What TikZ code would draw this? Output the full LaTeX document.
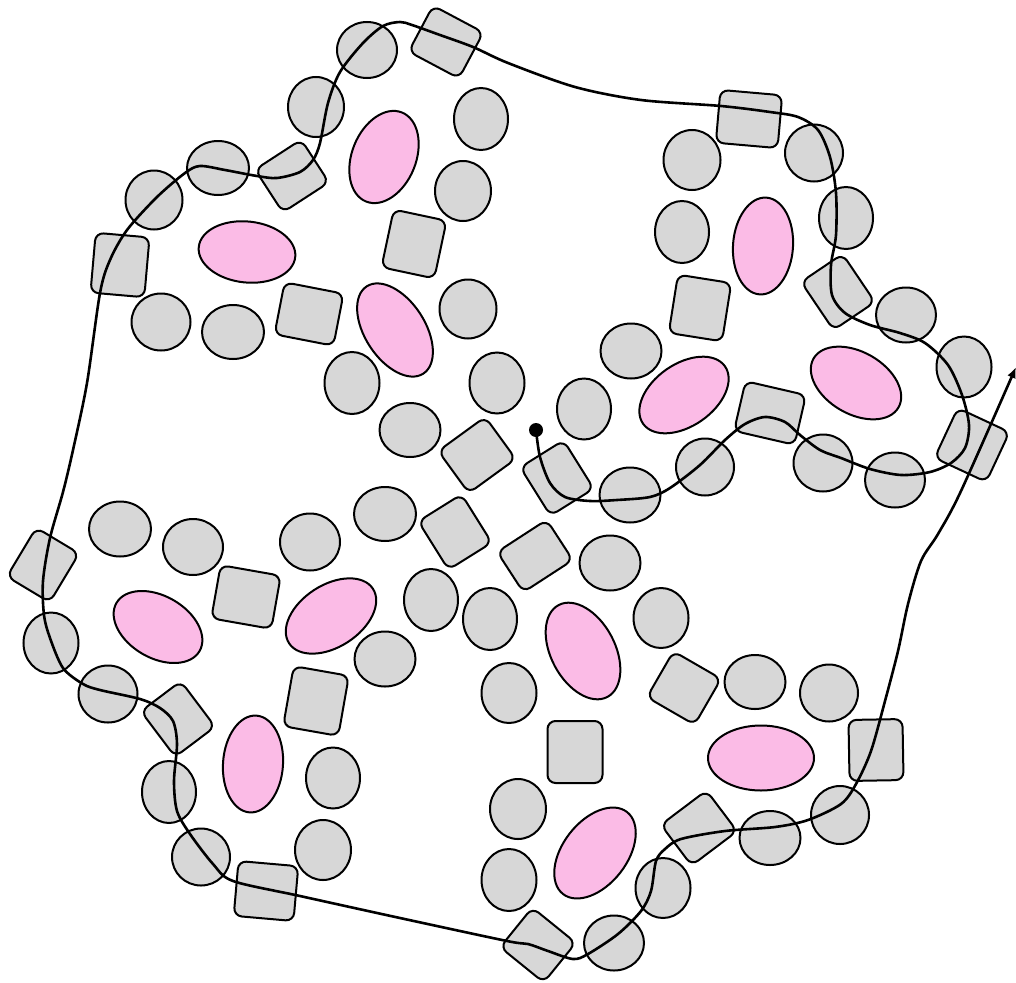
\documentclass[tikz,border=0pt]{standalone}
\usetikzlibrary{shapes.geometric,arrows.meta}
\definecolor{grayfill}{RGB}{215,215,215}
\definecolor{pinkfill}{RGB}{251,187,230}
\tikzset{
  gc/.style 2 args={ellipse, draw=black, fill=grayfill, line width=2pt, inner sep=0pt, outer sep=0pt, minimum width=#1, minimum height=#2},
  pk/.style 2 args={ellipse, draw=black, fill=pinkfill, line width=2pt, inner sep=0pt, outer sep=0pt, minimum width=#1, minimum height=#2},
  sq/.style 2 args={rectangle, rounded corners=8pt, draw=black, fill=grayfill, line width=2pt, inner sep=0pt, outer sep=0pt, minimum width=#1, minimum height=#2},
  dotnode/.style={circle, fill=black, inner sep=0pt, minimum size=14pt},
  route/.style={line width=2.6pt, draw=black, -{Latex[length=11pt,width=9pt]}}
}
\begin{document}
\begin{tikzpicture}[x=1pt,y=-1pt]
\useasboundingbox (0,0) rectangle (1016,982);
% rounded squares
\node[sq={57}{52}, rotate=-28] (s1) at (446,42) {};
\node[sq={55}{51}, rotate=33] (s2) at (292,176) {};
\node[sq={54}{60}, rotate=-5] (s3) at (120,265) {};
\node[sq={54}{59}, rotate=-12] (s4) at (414,244) {};
\node[sq={60}{53}, rotate=-11] (s5) at (309,314) {};
\node[sq={58}{52}, rotate=36] (s6) at (477,455) {};
\node[sq={62}{53}, rotate=-5] (s7) at (749,119) {};
\node[sq={54}{59}, rotate=-9] (s8) at (700,308) {};
\node[sq={50}{58}, rotate=34] (s9) at (838,292) {};
\node[sq={57}{55}, rotate=-25] (s10) at (972,445) {};
\node[sq={62}{51}, rotate=-13] (s11) at (770,413) {};
\node[sq={51}{57}, rotate=32] (s12) at (557,478) {};
\node[sq={51}{57}, rotate=32] (s13) at (455,532) {};
\node[sq={59}{48}, rotate=33] (s14) at (535,556) {};
\node[sq={50}{57}, rotate=-31] (s15) at (43,565) {};
\node[sq={61}{54}, rotate=-10] (s16) at (246,597) {};
\node[sq={50}{57}, rotate=37] (s17) at (178,719) {};
\node[sq={56}{61}, rotate=-10] (s18) at (316,701) {};
\node[sq={60}{55}, rotate=-5] (s19) at (266,891) {};
\node[sq={55}{53}, rotate=-30] (s20) at (684,688) {};
\node[sq={55}{62}] (s21) at (575,752) {};
\node[sq={54}{61}, rotate=1] (s22) at (876,750) {};
\node[sq={57}{51}, rotate=37] (s23) at (699,828) {};
\node[sq={56}{51}, rotate=-39] (s24) at (538,945) {};
% gray circles
\node[gc={60}{56}] (c1) at (367,50) {};
\node[gc={54}{62}] (c2) at (481,119) {};
\node[gc={56}{60}] (c3) at (316,107) {};
\node[gc={56}{60}] (c4) at (463,191) {};
\node[gc={62}{54}] (c5) at (218,168) {};
\node[gc={57}{59}] (c6) at (154,200) {};
\node[gc={59}{57}] (c7) at (161,322) {};
\node[gc={62}{54}] (c8) at (233,332) {};
\node[gc={57}{59}] (c9) at (468,309) {};
\node[gc={55}{62}] (c10) at (352,383) {};
\node[gc={61}{54}] (c11) at (410,430) {};
\node[gc={55}{61}] (c12) at (497,383) {};
\node[gc={57}{60}] (c13) at (692,160) {};
\node[gc={58}{57}] (c14) at (814,153) {};
\node[gc={54}{62}] (c15) at (682,232) {};
\node[gc={54}{62}] (c16) at (846,218) {};
\node[gc={60}{55}] (c17) at (906,315) {};
\node[gc={55}{61}] (c18) at (964,367) {};
\node[gc={61}{55}] (c19) at (631,351) {};
\node[gc={54}{61}] (c20) at (584,409) {};
\node[gc={59}{57}] (c21) at (823,463) {};
\node[gc={60}{55}] (c22) at (895,480) {};
\node[gc={58}{57}] (c23) at (705,467) {};
\node[gc={61}{55}] (c24) at (630,495) {};
\node[gc={62}{55}] (c25) at (120,529) {};
\node[gc={60}{56}] (c26) at (193,547) {};
\node[gc={60}{57}] (c27) at (310,542) {};
\node[gc={62}{54}] (c28) at (385,514) {};
\node[gc={54}{62}] (c29) at (431,600) {};
\node[gc={61}{55}] (c30) at (385,659) {};
\node[gc={55}{61}] (c31) at (51,643) {};
\node[gc={59}{57}] (c32) at (108,694) {};
\node[gc={54}{61}] (c33) at (333,778) {};
\node[gc={54}{62}] (c34) at (169,792) {};
\node[gc={58}{57}] (c35) at (201,857) {};
\node[gc={56}{60}] (c36) at (323,850) {};
\node[gc={61}{55}] (c37) at (610,563) {};
\node[gc={54}{62}] (c38) at (490,619) {};
\node[gc={55}{60}] (c39) at (661,618) {};
\node[gc={55}{60}] (c40) at (509,693) {};
\node[gc={61}{54}] (c41) at (755,682) {};
\node[gc={58}{57}] (c42) at (829,693) {};
\node[gc={56}{60}] (c43) at (518,809) {};
\node[gc={55}{62}] (c44) at (509,880) {};
\node[gc={61}{54}] (c45) at (770,838) {};
\node[gc={58}{58}] (c46) at (840,815) {};
\node[gc={55}{60}] (c47) at (663,888) {};
\node[gc={60}{55}] (c48) at (614,943) {};
% pink ellipses
\node[pk={64}{96}, rotate=-22] (p1) at (384,157) {};
\node[pk={97}{61}, rotate=-6] (p2) at (247,252) {};
\node[pk={60}{104}, rotate=33] (p3) at (395,330) {};
\node[pk={60}{97}, rotate=-4] (p4) at (763,246) {};
\node[pk={100}{62}, rotate=35] (p5) at (684,395) {};
\node[pk={98}{62}, rotate=-30] (p6) at (856,383) {};
\node[pk={96}{62}, rotate=-30] (p7) at (158,627) {};
\node[pk={100}{62}, rotate=33] (p8) at (331,616) {};
\node[pk={64}{104}, rotate=28] (p9) at (583,651) {};
\node[pk={60}{97}, rotate=-4] (p10) at (253,764) {};
\node[pk={106}{65}] (p11) at (761,758) {};
\node[pk={64}{104}, rotate=-38] (p12) at (595,853) {};
% route
\node[dotnode] (start) at (536,430) {};
\coordinate (end) at (1016,367);
\draw[route] plot[smooth, tension=0.5] coordinates {
(start) (540,457) (550,483) (565,497) (590,501) (617,500) (650,497) (670,488)
(700,465) (725,440) (745,424) (765,417) (785,422) (800,435) (820,450) (841,458)
(870,469) (901,475) (930,472) (951,463) (965,448) (969,425) (962,395) (948,365)
(925,343) (900,333) (870,325) (845,313) (832,295) (831,265) (836,235) (836,193)
(830,157) (818,130) (798,117) (770,112) (721,106) (641,100) (575,87) (508,63)
(473,47) (440,35) (412,25) (400,22) (383,26) (363,43) (340,72) (328,103)
(320,143) (313,160) (300,172) (277,178) (257,176) (225,170) (200,166) (185,173)
(157,197) (127,230) (110,260) (100,293) (87,383) (73,450) (63,492) (50,538)
(43,581) (44,615) (50,638) (63,668) (83,684) (100,690) (140,699) (160,708)
(173,721) (177,744) (174,781) (177,811) (190,834) (213,864) (233,881) (300,896)
(400,918) (507,941) (528,944) (548,951) (573,959) (588,954) (618,934) (641,911)
(651,891) (656,861) (665,849) (681,839) (725,831) (775,827) (808,820) (841,804)
(856,784) (871,751) (885,701) (898,651) (908,604) (921,561) (938,534) (961,491)
(end)};
\end{tikzpicture}
\end{document}
